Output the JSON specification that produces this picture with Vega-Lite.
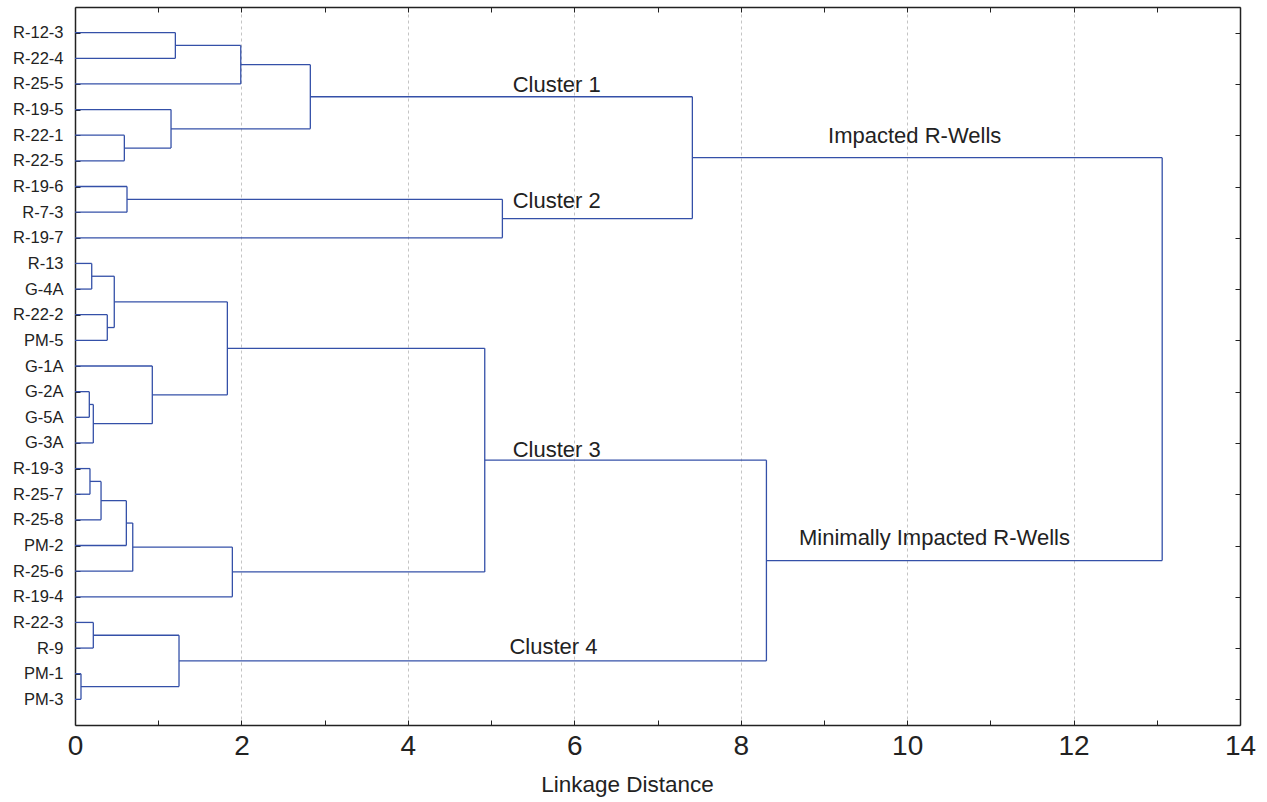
{
  "$schema": "https://vega.github.io/schema/vega-lite/v6.json",
  "width": 1165,
  "height": 718,
  "autosize": {"type": "none"},
  "padding": {"left": 75, "top": 7, "right": 27, "bottom": 77},
  "background": "white",
  "config": {"view": {"stroke": null}, "font": "Liberation Sans"},
  "datasets": {
    "leaves": [
      {"leaf": "R-12-3", "height": 1.206},
      {"leaf": "R-22-4", "height": 1.206},
      {"leaf": "R-25-5", "height": 1.992},
      {"leaf": "R-19-5", "height": 1.154},
      {"leaf": "R-22-1", "height": 0.593},
      {"leaf": "R-22-5", "height": 0.593},
      {"leaf": "R-19-6", "height": 0.625},
      {"leaf": "R-7-3", "height": 0.625},
      {"leaf": "R-19-7", "height": 5.136},
      {"leaf": "R-13", "height": 0.201},
      {"leaf": "G-4A", "height": 0.201},
      {"leaf": "R-22-2", "height": 0.388},
      {"leaf": "PM-5", "height": 0.388},
      {"leaf": "G-1A", "height": 0.929},
      {"leaf": "G-2A", "height": 0.172},
      {"leaf": "G-5A", "height": 0.172},
      {"leaf": "G-3A", "height": 0.22},
      {"leaf": "R-19-3", "height": 0.18},
      {"leaf": "R-25-7", "height": 0.18},
      {"leaf": "R-25-8", "height": 0.313},
      {"leaf": "PM-2", "height": 0.617},
      {"leaf": "R-25-6", "height": 0.694},
      {"leaf": "R-19-4", "height": 1.891},
      {"leaf": "R-22-3", "height": 0.22},
      {"leaf": "R-9", "height": 0.22},
      {"leaf": "PM-1", "height": 0.072},
      {"leaf": "PM-3", "height": 0.072}
    ],
    "nodes": [
      {"node": "A", "height": 1.206, "top": 0, "bottom": 1, "mid": 0.5, "parent": 1.992},
      {"node": "B", "height": 1.992, "top": 0.5, "bottom": 2, "mid": 1.25, "parent": 2.828},
      {"node": "C", "height": 0.593, "top": 4, "bottom": 5, "mid": 4.5, "parent": 1.154},
      {"node": "D", "height": 1.154, "top": 3, "bottom": 4.5, "mid": 3.75, "parent": 2.828},
      {"node": "E", "height": 2.828, "top": 1.25, "bottom": 3.75, "mid": 2.5, "parent": 7.419},
      {"node": "F", "height": 0.625, "top": 6, "bottom": 7, "mid": 6.5, "parent": 5.136},
      {"node": "G", "height": 5.136, "top": 6.5, "bottom": 8, "mid": 7.25, "parent": 7.419},
      {"node": "H", "height": 7.419, "top": 2.5, "bottom": 7.25, "mid": 4.875, "parent": 13.065},
      {"node": "I", "height": 0.201, "top": 9, "bottom": 10, "mid": 9.5, "parent": 0.472},
      {"node": "J", "height": 0.388, "top": 11, "bottom": 12, "mid": 11.5, "parent": 0.472},
      {"node": "K", "height": 0.472, "top": 9.5, "bottom": 11.5, "mid": 10.5, "parent": 1.831},
      {"node": "L", "height": 0.172, "top": 14, "bottom": 15, "mid": 14.5, "parent": 0.22},
      {"node": "M", "height": 0.22, "top": 14.5, "bottom": 16, "mid": 15.25, "parent": 0.929},
      {"node": "N", "height": 0.929, "top": 13, "bottom": 15.25, "mid": 14.125, "parent": 1.831},
      {"node": "O", "height": 1.831, "top": 10.5, "bottom": 14.125, "mid": 12.3125, "parent": 4.924},
      {"node": "P", "height": 0.18, "top": 17, "bottom": 18, "mid": 17.5, "parent": 0.313},
      {"node": "Q", "height": 0.313, "top": 17.5, "bottom": 19, "mid": 18.25, "parent": 0.617},
      {"node": "R", "height": 0.617, "top": 18.25, "bottom": 20, "mid": 19.125, "parent": 0.694},
      {"node": "S", "height": 0.694, "top": 19.125, "bottom": 21, "mid": 20.0625, "parent": 1.891},
      {"node": "T", "height": 1.891, "top": 20.0625, "bottom": 22, "mid": 21.03125, "parent": 4.924},
      {"node": "U", "height": 4.924, "top": 12.3125, "bottom": 21.03125, "mid": 16.671875, "parent": 8.309},
      {"node": "V", "height": 0.22, "top": 23, "bottom": 24, "mid": 23.5, "parent": 1.25},
      {"node": "W", "height": 0.072, "top": 25, "bottom": 26, "mid": 25.5, "parent": 1.25},
      {"node": "X", "height": 1.25, "top": 23.5, "bottom": 25.5, "mid": 24.5, "parent": 8.309},
      {"node": "Y", "height": 8.309, "top": 16.671875, "bottom": 24.5, "mid": 20.5859375, "parent": 13.065},
      {"node": "Z", "height": 13.065, "top": 4.875, "bottom": 20.5859375, "mid": 12.73046875, "parent": null}
    ],
    "labels": [
      {"label": "Cluster 1", "x": 5.26, "y": 2.33},
      {"label": "Cluster 2", "x": 5.26, "y": 6.83},
      {"label": "Cluster 3", "x": 5.26, "y": 16.54},
      {"label": "Cluster 4", "x": 5.22, "y": 24.25},
      {"label": "Impacted R-Wells", "x": 9.05, "y": 4.29},
      {"label": "Minimally Impacted R-Wells", "x": 8.7, "y": 19.98}
    ]
  },
  "layer": [
    {
      "data": {"name": "leaves"},
      "mark": {"type": "rule", "color": "#3450a8", "strokeWidth": 1.3},
      "encoding": {
        "y": {
          "field": "leaf", "type": "nominal", "sort": null,
          "scale": {"type": "point", "padding": 1},
          "axis": {
            "orient": "left", "title": null, "grid": false,
            "labelFontSize": 16.5, "labelColor": "#222", "labelPadding": 17,
            "tickSize": -5, "tickColor": "#222", "domainColor": "#222", "domainWidth": 1.5
          }
        },
        "x": {
          "field": "height", "type": "quantitative",
          "scale": {"domain": [0, 14], "nice": false, "zero": false},
          "axis": {
            "orient": "bottom",
            "values": [0, 1, 2, 3, 4, 5, 6, 7, 8, 9, 10, 11, 12, 13, 14],
            "labelExpr": "datum.value % 2 === 0 ? datum.label : ''",
            "labelFlush": false, "labelOverlap": false,
            "labelFontSize": 28, "labelColor": "#222", "labelPadding": 12,
            "tickSize": -5, "tickColor": "#222", "domainColor": "#222", "domainWidth": 1.5,
            "grid": true, "gridDash": [3, 3], "gridColor": "#c4c4c4",
            "gridOpacity": {"condition": {"test": "datum.value % 2 === 1 || datum.value === 0 || datum.value === 14", "value": 0}, "value": 1},
            "title": "Linkage Distance", "titleFontSize": 22.5, "titleFontWeight": "normal",
            "titleColor": "#222", "titlePadding": 13, "titleX": 552
          }
        },
        "x2": {"datum": 0}
      }
    },
    {
      "layer": [
        {
          "data": {"name": "nodes"},
          "mark": {"type": "rule", "color": "#3450a8", "strokeWidth": 1.3},
          "encoding": {
            "x": {
              "field": "height", "type": "quantitative",
              "scale": {"domain": [0, 14], "nice": false, "zero": false},
              "axis": {
                "orient": "top", "values": [0, 1, 2, 3, 4, 5, 6, 7, 8, 9, 10, 11, 12, 13, 14],
                "labels": false, "title": null, "grid": false,
                "tickSize": -5, "tickColor": "#222", "domainColor": "#222", "domainWidth": 1.5
              }
            },
            "y": {
              "field": "top", "type": "quantitative",
              "scale": {"domain": [-1, 27], "reverse": true, "nice": false, "zero": false},
              "axis": {
                "orient": "right", "values": [0, 1, 2, 3, 4, 5, 6, 7, 8, 9, 10, 11, 12, 13, 14, 15, 16, 17, 18, 19, 20, 21, 22, 23, 24, 25, 26],
                "labels": false, "title": null, "grid": false,
                "tickSize": -5, "tickColor": "#222", "domainColor": "#222", "domainWidth": 1.5
              }
            },
            "y2": {"field": "bottom"}
          }
        },
        {
          "data": {"name": "nodes"},
          "transform": [{"filter": "datum.parent != null"}],
          "mark": {"type": "rule", "color": "#3450a8", "strokeWidth": 1.3},
          "encoding": {
            "x": {"field": "height", "type": "quantitative"},
            "x2": {"field": "parent"},
            "y": {"field": "mid", "type": "quantitative"}
          }
        },
        {
          "data": {"name": "labels"},
          "mark": {"type": "text", "align": "left", "baseline": "alphabetic", "fontSize": 22, "color": "#222"},
          "encoding": {
            "x": {"field": "x", "type": "quantitative"},
            "y": {"field": "y", "type": "quantitative"},
            "text": {"field": "label"}
          }
        }
      ]
    }
  ],
  "resolve": {
    "scale": {"x": "independent", "y": "independent"},
    "axis": {"x": "independent", "y": "independent"}
  }
}
